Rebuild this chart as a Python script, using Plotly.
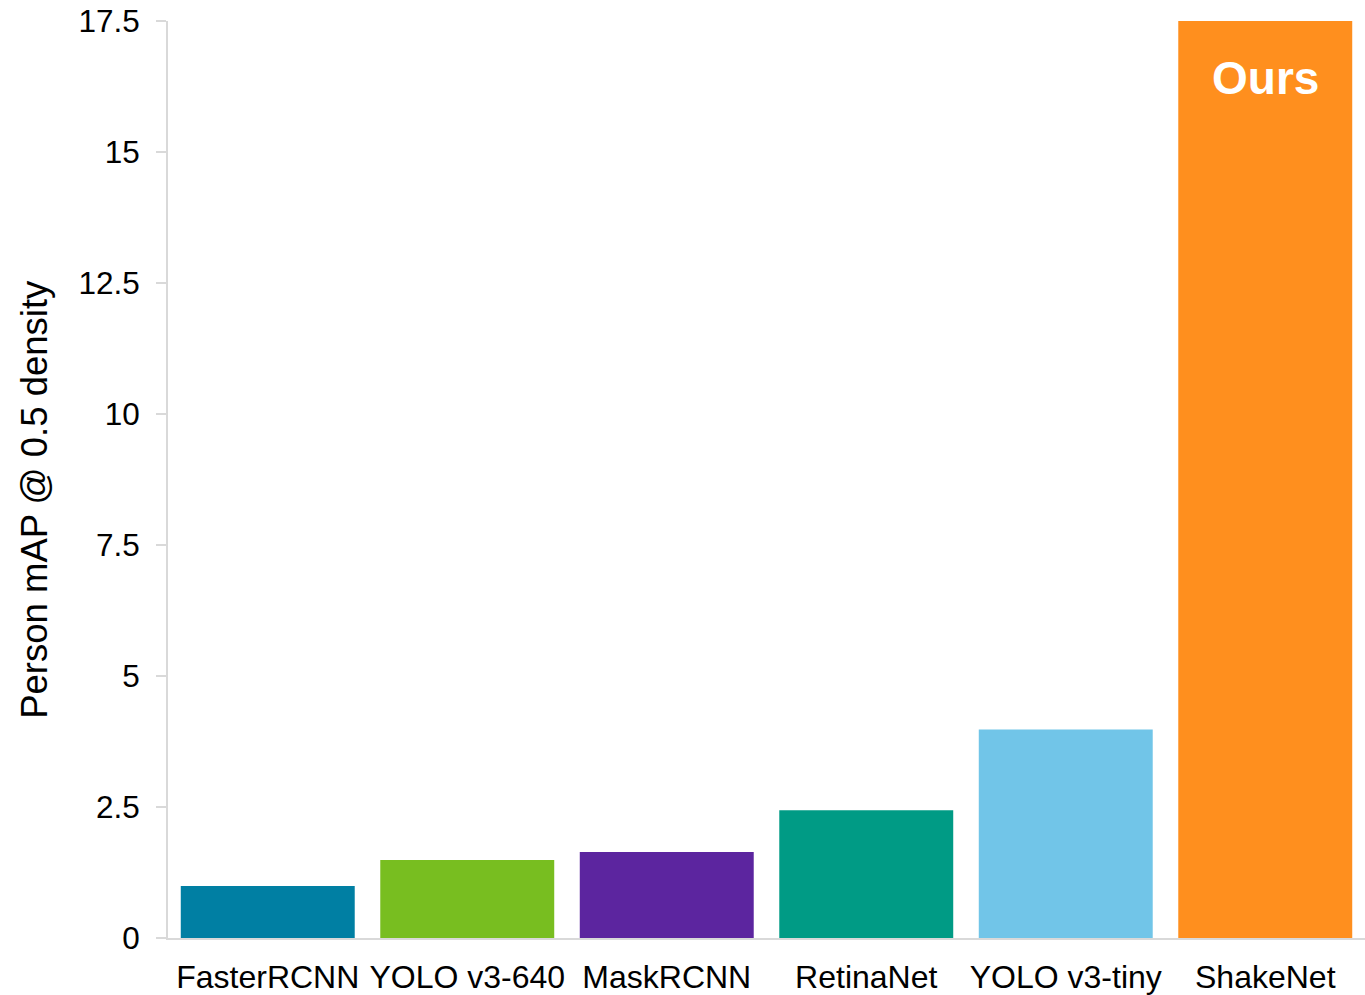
import plotly.graph_objects as go

# Detector names and their person mAP @ 0.5 density
models = ["FasterRCNN", "YOLO v3-640", "MaskRCNN", "RetinaNet", "YOLO v3-tiny", "ShakeNet"]
density = [0.99, 1.49, 1.64, 2.44, 3.98, 17.5]
bar_colors = ["#007FA3", "#78BE20", "#5C259F", "#009B85", "#71C5E8", "#FF8F1E"]

y_ticks = [0, 2.5, 5, 7.5, 10, 12.5, 15, 17.5]
y_tick_text = ["0", "2.5", "5", "7.5", "10", "12.5", "15", "17.5"]

font_family = "Liberation Sans, Arial, sans-serif"

fig = go.Figure(
    go.Bar(
        x=models,
        y=density,
        marker=dict(color=bar_colors, line=dict(width=0)),
        hoverinfo="x+y",
    )
)

# Label on the highlighted bar
fig.add_annotation(
    x=models[-1], y=density[-1], yref="y", xref="x",
    text="<b>Ours</b>", showarrow=False,
    yanchor="top", yshift=-29,
    font=dict(family=font_family, size=46, color="white"),
)

# Vertical y-axis title, placed slightly below the plot's vertical centre
fig.add_annotation(
    x=-0.111, y=0.478, xref="paper", yref="paper",
    text="Person mAP @ 0.5 density", textangle=-90, showarrow=False,
    xanchor="center", yanchor="middle",
    font=dict(family=font_family, size=36.5, color="black"),
)

fig.update_layout(
    width=1365, height=995,
    margin=dict(l=168, r=0, t=21, b=54),
    paper_bgcolor="white", plot_bgcolor="white",
    bargap=0.128,
    showlegend=False,
    font=dict(family=font_family, color="black"),
)

fig.update_xaxes(
    showline=True, linecolor="#d9d9d9", linewidth=2,
    showgrid=False, zeroline=False,
    ticks="outside", ticklen=10, tickcolor="rgba(0,0,0,0)",
    tickfont=dict(size=32, family=font_family, color="black"),
)

fig.update_yaxes(
    range=[0, 17.5],
    tickvals=y_ticks, ticktext=y_tick_text,
    showline=True, linecolor="#d9d9d9", linewidth=2,
    showgrid=False, zeroline=False,
    ticks="outside", ticklen=10, tickcolor="#d9d9d9", tickwidth=2,
    ticklabelstandoff=10,
    tickfont=dict(size=31.5, family=font_family, color="black"),
)

fig.write_html("out.html")
